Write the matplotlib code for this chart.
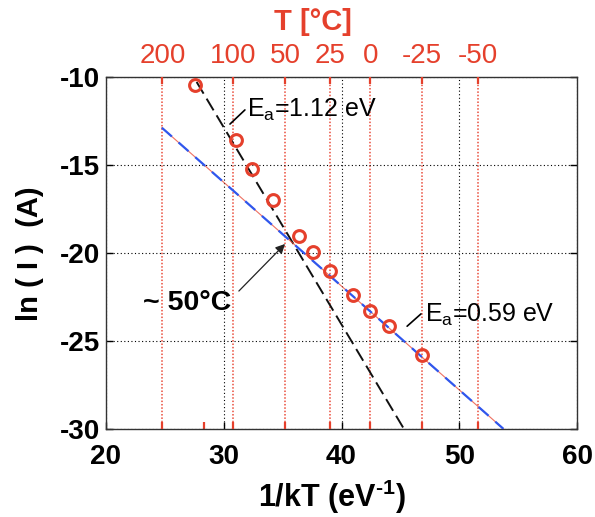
import numpy as np
import matplotlib
matplotlib.use("Agg")
import matplotlib.pyplot as plt

plt.rcParams['font.family'] = ['Liberation Sans', 'DejaVu Sans']
plt.rcParams['axes.unicode_minus'] = False
plt.rcParams['mathtext.fontset'] = 'custom'
plt.rcParams['mathtext.rm'] = 'Liberation Sans'
plt.rcParams['mathtext.it'] = 'Liberation Sans:italic'
plt.rcParams['mathtext.bf'] = 'Liberation Sans:bold'

# Measured current vs inverse thermal energy
inv_kT = [27.6, 31.0, 32.4, 34.2, 36.4, 37.6, 39.0, 41.0, 42.4, 44.0, 46.8]
ln_I = [-10.45, -13.6, -15.25, -17.0, -19.05, -19.95, -21.0, -22.4, -23.3, -24.15, -25.8]

# Temperature scale (top axis)
temp_labels = ['200', '100', '50', '25', '0', '-25', '-50']
temp_pos = [24.8, 30.8, 35.2, 39.0, 42.45, 46.8, 51.6]
extra_tick = [28.3]

# Arrhenius fits: activation energy (slope), start point and end x
fit_ea = [1.12, 0.59]
fit_x0 = [27.7, 24.75]
fit_y0 = [-10.28, -12.88]
fit_x1 = [45.3, 53.74]

RED = '#e5402c'
RED_LINE = '#ea4c3a'
BLUE = '#2f57ee'
FRAME = '#333333'

fig = plt.figure(figsize=(5.95, 5.17), dpi=100)
ax = fig.add_axes([0.178, 0.170, 0.792, 0.681])
ax.set_xlim(20, 60)
ax.set_ylim(-30, -10)
ax.set_xticks([20, 30, 40, 50, 60])
ax.set_yticks([-30, -25, -20, -15, -10])

ax.grid(True, color='black', ls=(0, (1, 2.2)), lw=0.8)
for p in temp_pos:
    ax.axvline(p, color=RED_LINE, ls=(0, (1, 1.2)), lw=1.1, zorder=1.5)

# fitted lines
xs = np.array([fit_x0[0], fit_x1[0]])
ax.plot(xs, fit_y0[0] - fit_ea[0] * (xs - fit_x0[0]), color='#111111',
        ls=(0, (7, 3)), lw=1.4, zorder=3)
xs = np.array([fit_x0[1], fit_x1[1]])
yb = fit_y0[1] - fit_ea[1] * (xs - fit_x0[1])
ax.plot(xs, yb, color=RED_LINE, lw=0.8, alpha=0.8, zorder=3)
ax.plot(xs, yb, color=BLUE, ls=(0, (6, 4)), lw=1.6, zorder=3.1)

ax.plot(inv_kT, ln_I, 'o', mfc='none', mec=RED, ms=8.5, mew=2.2, zorder=5)

# annotations
ax.annotate('', xy=(30.36, -12.78), xytext=(31.97, -11.76),
            arrowprops=dict(arrowstyle='-', color='black', lw=1.2))
ax.text(31.97, -12.27, r'E$_{\mathrm{a}}$=1.12 eV', fontsize=18, ha='left', va='baseline')
ax.annotate('', xy=(45.39, -24.26), xytext=(46.92, -23.35),
            arrowprops=dict(arrowstyle='-', color='black', lw=1.2))
ax.text(47.09, -23.9, r'E$_{\mathrm{a}}$=0.59 eV', fontsize=18, ha='left', va='baseline')
ax.annotate('', xy=(35.37, -19.37), xytext=(31.12, -22.27),
            arrowprops=dict(arrowstyle='-|>', color='#222222', lw=0.9, mutation_scale=14))
ax.text(30.6, -23.24, '~ 50°C', fontsize=20.5, fontweight='bold', ha='right', va='baseline')

for s in ax.spines.values():
    s.set_color(FRAME)
    s.set_linewidth(1.0)
ax.tick_params(direction='in', length=5, width=1.0, colors='black',
               top=True, right=True, labelsize=20)
ax.tick_params(axis='x', pad=11)
ax.tick_params(axis='y', pad=4)
for lbl in ax.get_xticklabels() + ax.get_yticklabels():
    lbl.set_fontweight('bold')

# temperature axis on top
ax2 = ax.twiny()
ax2.set_xlim(ax.get_xlim())
ax2.set_xticks(temp_pos)
ax2.set_xticklabels(temp_labels)
ax2.tick_params(axis='x', direction='in', length=5, width=1.6, colors=RED,
                top=True, bottom=True, labelbottom=False, labelsize=20, pad=6)
for s in ax2.spines.values():
    s.set_visible(False)

ax3 = ax.secondary_xaxis('bottom')
ax3.set_xticks(extra_tick)
ax3.tick_params(direction='in', length=5, width=1.6, color=RED, labelbottom=False)
ax3.spines['bottom'].set_visible(False)

fig.text(313 / 595, 1 - 22 / 517, 'T [°C]', color=RED, fontweight='bold',
         fontsize=21, ha='center', va='center')
fig.text(30 / 595, 1 - 254 / 517, 'ln ( I )  (A)', rotation=90, fontweight='bold',
         fontsize=21, ha='center', va='center')
fig.text(332 / 595, 1 - 497 / 517, '1/kT (eV$^{\\mathbf{\u20101}}$)', fontweight='bold',
         fontsize=22, ha='center', va='center')

fig.savefig('out.png', dpi=100)
